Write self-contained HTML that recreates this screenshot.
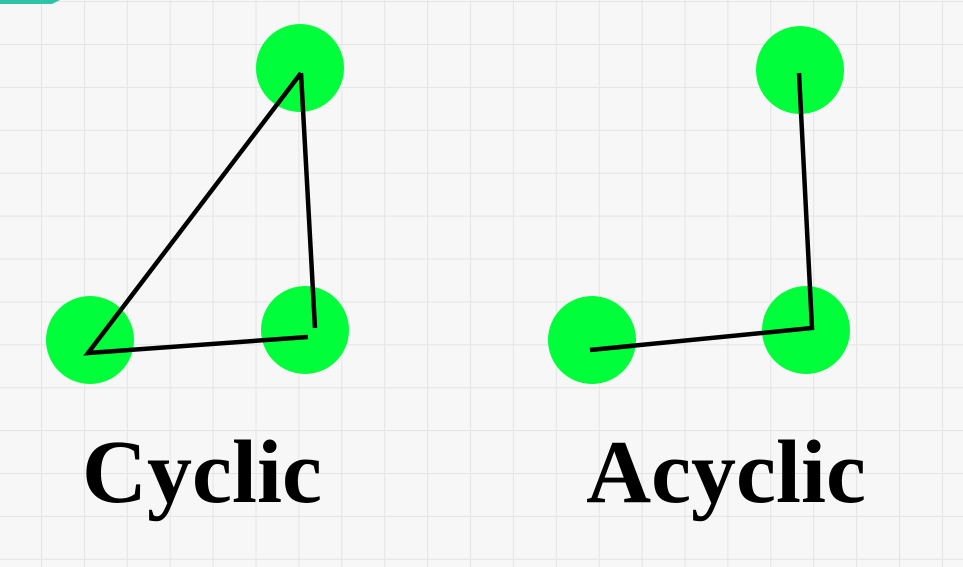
<!DOCTYPE html>
<html><head><meta charset="utf-8"><style>
html,body{margin:0;padding:0;background:#f7f7f7;}
svg{display:block}
</style></head><body>
<svg width="963" height="567" viewBox="0 0 963 567">
<defs>
<pattern id="grid" x="41" y="44" width="42.9" height="42.9" patternUnits="userSpaceOnUse">
<rect width="42.9" height="42.9" fill="#f7f7f7"/>
<path d="M0 0H42.9M0 0V42.9" stroke="#e4e4e4" stroke-width="2" fill="none"/>
</pattern>
</defs>
<rect width="963" height="567" fill="url(#grid)"/>
<path d="M0 0H60L52 4H0Z" fill="#2fc4a8"/>
<g>
<circle cx="300" cy="68" r="44" fill="#00ff3a"/>
<circle cx="90" cy="340" r="44" fill="#00ff3a"/>
<circle cx="305" cy="330" r="44" fill="#00ff3a"/>
<path d="M301 73L88 353L308 337M301 73L315 328" stroke="#000" stroke-width="4.5" fill="none"/>
</g>
<g>
<circle cx="800" cy="70" r="44" fill="#00ff3a"/>
<circle cx="592" cy="340" r="44" fill="#00ff3a"/>
<circle cx="806" cy="330" r="44" fill="#00ff3a"/>
<path d="M799 73L812 328L590 350" stroke="#000" stroke-width="4.5" fill="none"/>
</g>
<text x="202" y="502" text-anchor="middle" font-family="Liberation Serif, serif" font-weight="bold" font-size="90" fill="#000">Cyclic</text>
<text x="726" y="502" text-anchor="middle" font-family="Liberation Serif, serif" font-weight="bold" font-size="90" fill="#000">Acyclic</text>
</svg>
</body></html>
